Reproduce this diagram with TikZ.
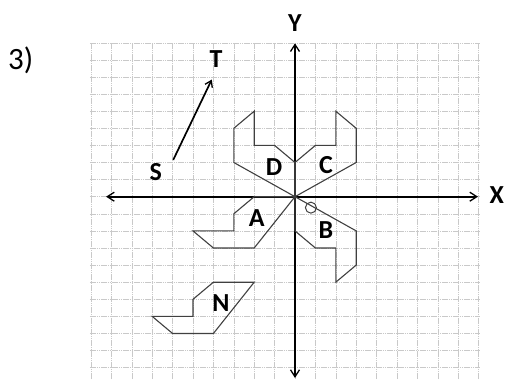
\documentclass[tikz,border=0pt]{standalone}
\usepackage{fontspec}
\setmainfont{Carlito}
\usetikzlibrary{arrows.meta}
\begin{document}
\begin{tikzpicture}[x=20.4pt,y=17.1pt,
  gridline/.style={draw=gray!42,line width=0.55pt,dash pattern=on 1.6pt off 0.6pt},
  axis/.style={draw=black,line width=2.2pt,{Straight Barb[length=7pt,width=9pt,line width=1.3pt]}-{Straight Barb[length=7pt,width=9pt,line width=1.3pt]}},
  poly/.style={draw=black!75,line width=1.1pt,line join=miter},
  lbl/.style={font=\fontsize{26}{26}\selectfont\bfseries,inner sep=0pt},
  vec/.style={draw=black,line width=1.7pt,-{Straight Barb[length=6pt,width=8pt,line width=1.3pt]}}]
\useasboundingbox (-14.461,-10.661) rectangle (10.294,11.503);
% grid
\foreach \x in {-10,...,9} \draw[gridline] (\x,-10.661) -- (\x,9);
\foreach \y in {-10,...,9} \draw[gridline] (-10.05,\y) -- (9.05,\y);
% axes
\coordinate (xl) at (-9.26,0);
\coordinate (xr) at (8.97,0);
\coordinate (yb) at (0,-10.6);
\coordinate (yt) at (0,8.97);
\draw[axis] (xl) -- (xr);
\draw[axis] (yb) -- (yt);
% shapes
\draw[poly] (-3,4) -- (-2,5) -- (-2,3) -- (-1,3) -- (0,2) -- (0,0) -- (-3,2) -- cycle;
\draw[poly] (3,4) -- (2,5) -- (2,3) -- (1,3) -- (0,2) -- (0,0) -- (3,2) -- cycle;
\draw[poly] (0,0) -- (3,-2) -- (3,-4) -- (2,-5) -- (2,-3) -- (1,-3) -- (0,-2) -- cycle;
\draw[poly] (0,0) -- (-2,0) -- (-3,-1) -- (-3,-2) -- (-5,-2) -- (-4,-3) -- (-2,-3) -- cycle;
\draw[poly] (-2,-5) -- (-4,-5) -- (-5,-6) -- (-5,-7) -- (-7,-7) -- (-6,-8) -- (-4,-8) -- cycle;
\draw[black!75,line width=1pt] (0.78,-0.64) circle (5.5pt);
% vector S -> T
\coordinate (s0) at (-5.97,2.15);
\coordinate (t0) at (-4.08,6.85);
\draw[vec] (s0) -- (t0);
% labels
\node[lbl] (lD) at (-1.03,1.75) {D};
\node[lbl] (lC) at (1.52,1.85) {C};
\node[lbl] (lA) at (-1.88,-1.26) {A};
\node[lbl] (lB) at (1.52,-1.95) {B};
\node[lbl] (lN) at (-3.63,-6.23) {N};
\node[lbl] (lS) at (-6.83,1.43) {S};
\node[lbl] (lT) at (-3.87,8.04) {T};
\node[lbl] (lX) at (9.89,0.1) {X};
\node[lbl] (lY) at (0,10.18) {Y};
\node[font=\fontsize{31}{31}\selectfont,inner sep=0pt] (num) at (-13.45,8.0) {3)};
\end{tikzpicture}
\end{document}
